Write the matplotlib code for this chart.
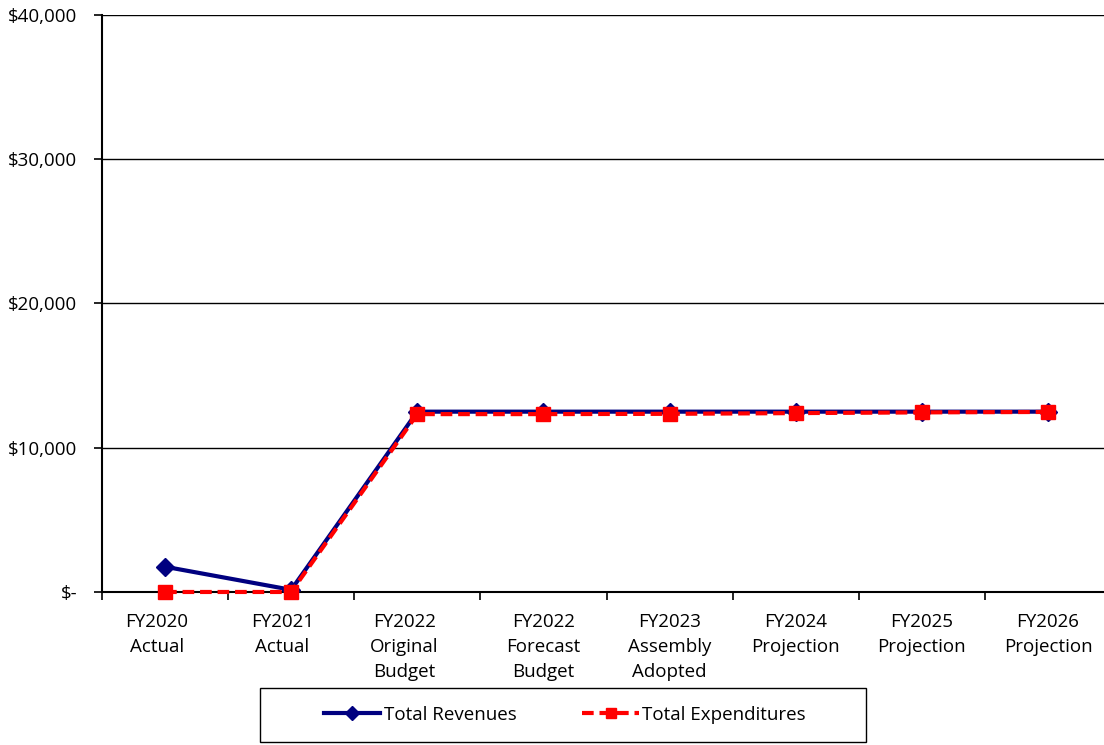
import matplotlib.pyplot as plt
import matplotlib.transforms as mtransforms
from matplotlib.patches import Rectangle
from matplotlib.ticker import FixedLocator, FuncFormatter

plt.rcParams['font.family'] = ['Open Sans', 'DejaVu Sans']

categories = ['FY2020\nActual', 'FY2021\nActual', 'FY2022\nOriginal\nBudget',
              'FY2022\nForecast\nBudget', 'FY2023\nAssembly\nAdopted',
              'FY2024\nProjection', 'FY2025\nProjection', 'FY2026\nProjection']
revenues = [1750, 150, 12500, 12500, 12500, 12500, 12500, 12500]
expenditures = [0, 0, 12330, 12330, 12350, 12400, 12450, 12480]
y_ticks = [0, 10000, 20000, 30000, 40000]

NAVY, RED = '#000080', '#FF0000'

fig = plt.figure(figsize=(11.04, 7.45), dpi=100)
# plot area runs a few pixels past the right edge, as in the reference
ax = fig.add_axes([102 / 1104, 0.2054, 1009 / 1104, 0.7745])

x = list(range(len(categories)))
ax.plot(x, revenues, color=NAVY, lw=3, marker='D', ms=9, mfc=NAVY, mec=NAVY,
        label='Total Revenues', zorder=3, clip_on=False)
ax.plot(x, expenditures, color=RED, lw=3, ls=(0, (2.8, 1.4)), marker='s', ms=10.5,
        mfc=RED, mec=RED, label='Total Expenditures', zorder=4, clip_on=False)

ax.set_xlim(-0.5, len(categories) - 0.5)
ax.set_ylim(0, 40000)
ax.set_yticks(y_ticks)
ax.yaxis.set_major_formatter(FuncFormatter(lambda v, p: '$-' if v == 0 else f'${v:,.0f}'))
ax.grid(axis='y', color='black', lw=1)
ax.set_axisbelow(True)

ax.set_xticks(x)
ax.set_xticklabels(categories, linespacing=1.52)
ax.tick_params(axis='x', length=0, pad=15)
ax.xaxis.set_minor_locator(FixedLocator([i - 0.5 for i in range(len(categories) + 1)]))
ax.tick_params(axis='x', which='minor', length=6, width=1.2, color='black', direction='out')
ax.tick_params(axis='y', length=6, width=1.2, pad=12, direction='out')
ax.tick_params(labelsize=13.5)

# the first three category labels sit a little left of their points
shifts = [-8, -9, -13]
for lab, dx in zip(ax.get_xticklabels(), shifts):
    lab.set_transform(lab.get_transform() +
                      mtransforms.ScaledTranslation(dx / 100, 0, fig.dpi_scale_trans))

for s in ['top', 'right']:
    ax.spines[s].set_visible(False)
for s in ['left', 'bottom']:
    ax.spines[s].set_linewidth(1.5)
    ax.spines[s].set_color('black')

# legend box
fig.patches.append(Rectangle((260 / 1104, 3 / 745), 606 / 1104, 54 / 745,
                             transform=fig.transFigure, fill=False,
                             edgecolor='black', lw=1.0))
leg = fig.legend(loc='center', bbox_to_anchor=(565 / 1104, 30 / 745),
                 ncol=2, frameon=False, fontsize=13.5, handlelength=3,
                 handletextpad=0.2, columnspacing=3.5, markerscale=0.75,
                 borderaxespad=0)

fig.savefig('out.png', dpi=100, facecolor='white')
